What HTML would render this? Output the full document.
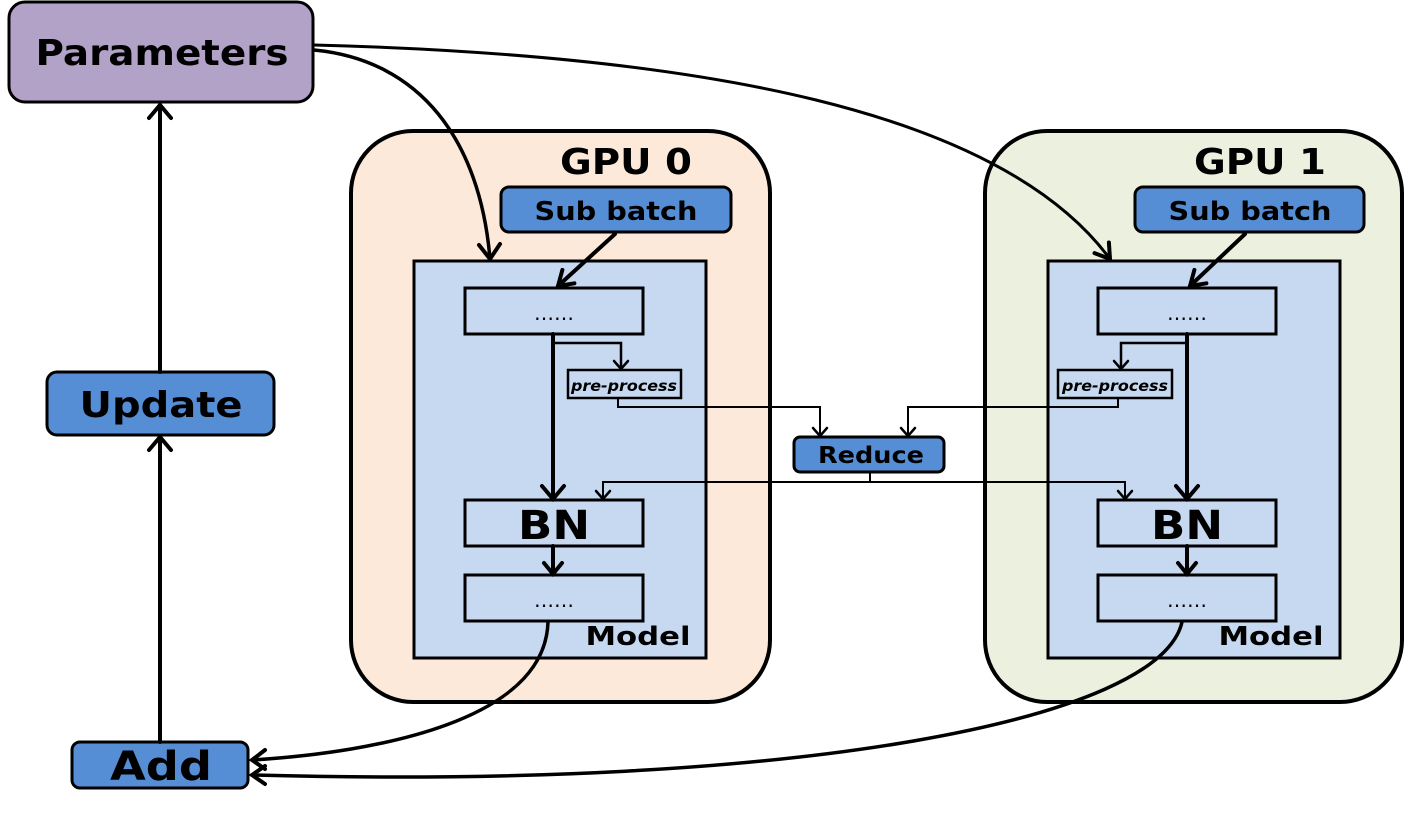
<!DOCTYPE html>
<html><head><meta charset="utf-8"><style>
html,body{margin:0;padding:0;background:#fff;}
svg{display:block;}
text{font-family:"DejaVu Sans","Liberation Sans",sans-serif;font-weight:bold;fill:#000;}
</style></head><body>
<svg width="1414" height="824" viewBox="0 0 1414 824" xmlns="http://www.w3.org/2000/svg">

<!-- GPU containers -->
<rect x="351" y="131" width="419" height="571" rx="62" fill="#fde9d9" stroke="#000" stroke-width="4"/>
<rect x="985" y="131" width="417" height="571" rx="62" fill="#ebf1de" stroke="#000" stroke-width="4"/>
<text x="626" y="174" font-size="36" text-anchor="middle" textLength="132" lengthAdjust="spacingAndGlyphs">GPU 0</text>
<text x="1260" y="174" font-size="36" text-anchor="middle" textLength="132" lengthAdjust="spacingAndGlyphs">GPU 1</text>

<!-- Parameters / Update / Add -->
<rect x="9" y="2" width="304" height="100" rx="16" fill="#b3a2c7" stroke="#000" stroke-width="3"/>
<text x="162" y="65" font-size="36" text-anchor="middle" textLength="253" lengthAdjust="spacingAndGlyphs">Parameters</text>
<rect x="47" y="372" width="227" height="63" rx="10" fill="#558ed5" stroke="#000" stroke-width="3"/>
<text x="161" y="417" font-size="36" text-anchor="middle" textLength="163" lengthAdjust="spacingAndGlyphs">Update</text>
<rect x="72" y="742" width="176" height="46" rx="8" fill="#558ed5" stroke="#000" stroke-width="3"/>
<text x="161" y="780" font-size="40" text-anchor="middle" textLength="102" lengthAdjust="spacingAndGlyphs">Add</text>

<!-- GPU0 internals -->
<rect x="501" y="187" width="230" height="45" rx="8" fill="#558ed5" stroke="#000" stroke-width="3"/>
<text x="616" y="220" font-size="26" text-anchor="middle" textLength="163" lengthAdjust="spacingAndGlyphs">Sub batch</text>
<rect x="414" y="261" width="292" height="397" fill="#c6d9f1" stroke="#000" stroke-width="3"/>
<rect x="465" y="288" width="178" height="46" fill="#c6d9f1" stroke="#000" stroke-width="3"/>
<text x="554" y="320" font-size="20" text-anchor="middle" style="font-weight:normal">……</text>
<rect x="568" y="370" width="113" height="28" fill="#c6d9f1" stroke="#000" stroke-width="2.5"/>
<text x="624" y="391" font-size="15" font-style="italic" text-anchor="middle" textLength="106" lengthAdjust="spacingAndGlyphs">pre-process</text>
<rect x="465" y="500" width="178" height="46" fill="#c6d9f1" stroke="#000" stroke-width="3"/>
<text x="554" y="539" font-size="40" text-anchor="middle" textLength="72" lengthAdjust="spacingAndGlyphs">BN</text>
<rect x="465" y="575" width="178" height="46" fill="#c6d9f1" stroke="#000" stroke-width="3"/>
<text x="554" y="607" font-size="20" text-anchor="middle" style="font-weight:normal">……</text>
<text x="638" y="645" font-size="26" text-anchor="middle" textLength="105" lengthAdjust="spacingAndGlyphs">Model</text>

<!-- GPU1 internals -->
<rect x="1135" y="187" width="229" height="45" rx="8" fill="#558ed5" stroke="#000" stroke-width="3"/>
<text x="1250" y="220" font-size="26" text-anchor="middle" textLength="163" lengthAdjust="spacingAndGlyphs">Sub batch</text>
<rect x="1048" y="261" width="292" height="397" fill="#c6d9f1" stroke="#000" stroke-width="3"/>
<rect x="1098" y="288" width="178" height="46" fill="#c6d9f1" stroke="#000" stroke-width="3"/>
<text x="1187" y="320" font-size="20" text-anchor="middle" style="font-weight:normal">……</text>
<rect x="1058" y="370" width="114" height="28" fill="#c6d9f1" stroke="#000" stroke-width="2.5"/>
<text x="1115" y="391" font-size="15" font-style="italic" text-anchor="middle" textLength="106" lengthAdjust="spacingAndGlyphs">pre-process</text>
<rect x="1098" y="500" width="178" height="46" fill="#c6d9f1" stroke="#000" stroke-width="3"/>
<text x="1187" y="539" font-size="40" text-anchor="middle" textLength="72" lengthAdjust="spacingAndGlyphs">BN</text>
<rect x="1098" y="575" width="178" height="46" fill="#c6d9f1" stroke="#000" stroke-width="3"/>
<text x="1187" y="607" font-size="20" text-anchor="middle" style="font-weight:normal">……</text>
<text x="1271" y="645" font-size="26" text-anchor="middle" textLength="105" lengthAdjust="spacingAndGlyphs">Model</text>

<!-- Reduce -->
<rect x="794" y="437" width="150" height="35" rx="6" fill="#558ed5" stroke="#000" stroke-width="3"/>
<text x="871" y="463" font-size="23" text-anchor="middle" textLength="106" lengthAdjust="spacingAndGlyphs">Reduce</text>

<g fill="none" stroke="#000" stroke-linecap="round" stroke-linejoin="miter">
<!-- left column -->
<line x1="160" y1="742" x2="160" y2="437" stroke-width="4"/>
<polyline points="149,450 160,437 171,450" stroke-width="4"/>
<line x1="160" y1="372" x2="160" y2="105" stroke-width="4"/>
<polyline points="149,118 160,105 171,118" stroke-width="4"/>

<!-- GPU0 connectors -->
<line x1="615" y1="234" x2="558" y2="286" stroke-width="4"/>
<polyline points="574.4,283.3 558,286 562.4,269.9" stroke-width="4"/>
<line x1="553" y1="334" x2="553" y2="499" stroke-width="4"/>
<polyline points="542,486 553,499 564,486" stroke-width="4"/>
<polyline points="553,343 621,343 621,369" stroke-width="2.5"/>
<polyline points="614,361 621,369 628,361" stroke-width="2.5"/>
<polyline points="618,398 618,407 820,407 820,436" stroke-width="2"/>
<polyline points="813,428 820,436 827,428" stroke-width="2.5"/>
<line x1="553" y1="546" x2="553" y2="574" stroke-width="4"/>
<polyline points="544,563 553,574 562,563" stroke-width="4"/>

<!-- GPU1 connectors -->
<line x1="1245" y1="234" x2="1190" y2="286" stroke-width="4"/>
<polyline points="1206.4,283.3 1190,286 1194.4,269.9" stroke-width="4"/>
<line x1="1187" y1="334" x2="1187" y2="499" stroke-width="4"/>
<polyline points="1176,486 1187,499 1198,486" stroke-width="4"/>
<polyline points="1187,343 1121,343 1121,369" stroke-width="2.5"/>
<polyline points="1114,361 1121,369 1128,361" stroke-width="2.5"/>
<polyline points="1118,398 1118,407 908,407 908,436" stroke-width="2"/>
<polyline points="901,428 908,436 915,428" stroke-width="2.5"/>
<line x1="1187" y1="546" x2="1187" y2="574" stroke-width="4"/>
<polyline points="1178,563 1187,574 1196,563" stroke-width="4"/>

<!-- Reduce out -->
<line x1="870" y1="472" x2="870" y2="482" stroke-width="2"/>
<polyline points="603,499 603,482 1125,482 1125,499" stroke-width="2"/>
<polyline points="596,491 603,499 610,491" stroke-width="2.5"/>
<polyline points="1118,491 1125,499 1132,491" stroke-width="2.5"/>

<!-- Parameters curves -->
<path d="M314,50 C420,60 480,140 490,259" stroke-width="3.5"/>
<polyline points="479,245 490,259 500,244" stroke-width="4"/>
<path d="M314,45 C700,55 1000,110 1110,259" stroke-width="3"/>
<polyline points="1108.9,242.5 1110,259 1094.5,253.1" stroke-width="4"/>

<!-- bottom curves -->
<path d="M548,622 C545,720 380,752 252,760" stroke-width="3.5"/>
<polyline points="265,750 252,760 265,769" stroke-width="4"/>
<path d="M1182,622 C1160,720 800,790 252,775" stroke-width="3.5"/>
<polyline points="265,766 252,775 265,784" stroke-width="4"/>
</g>
</svg>
</body></html>
